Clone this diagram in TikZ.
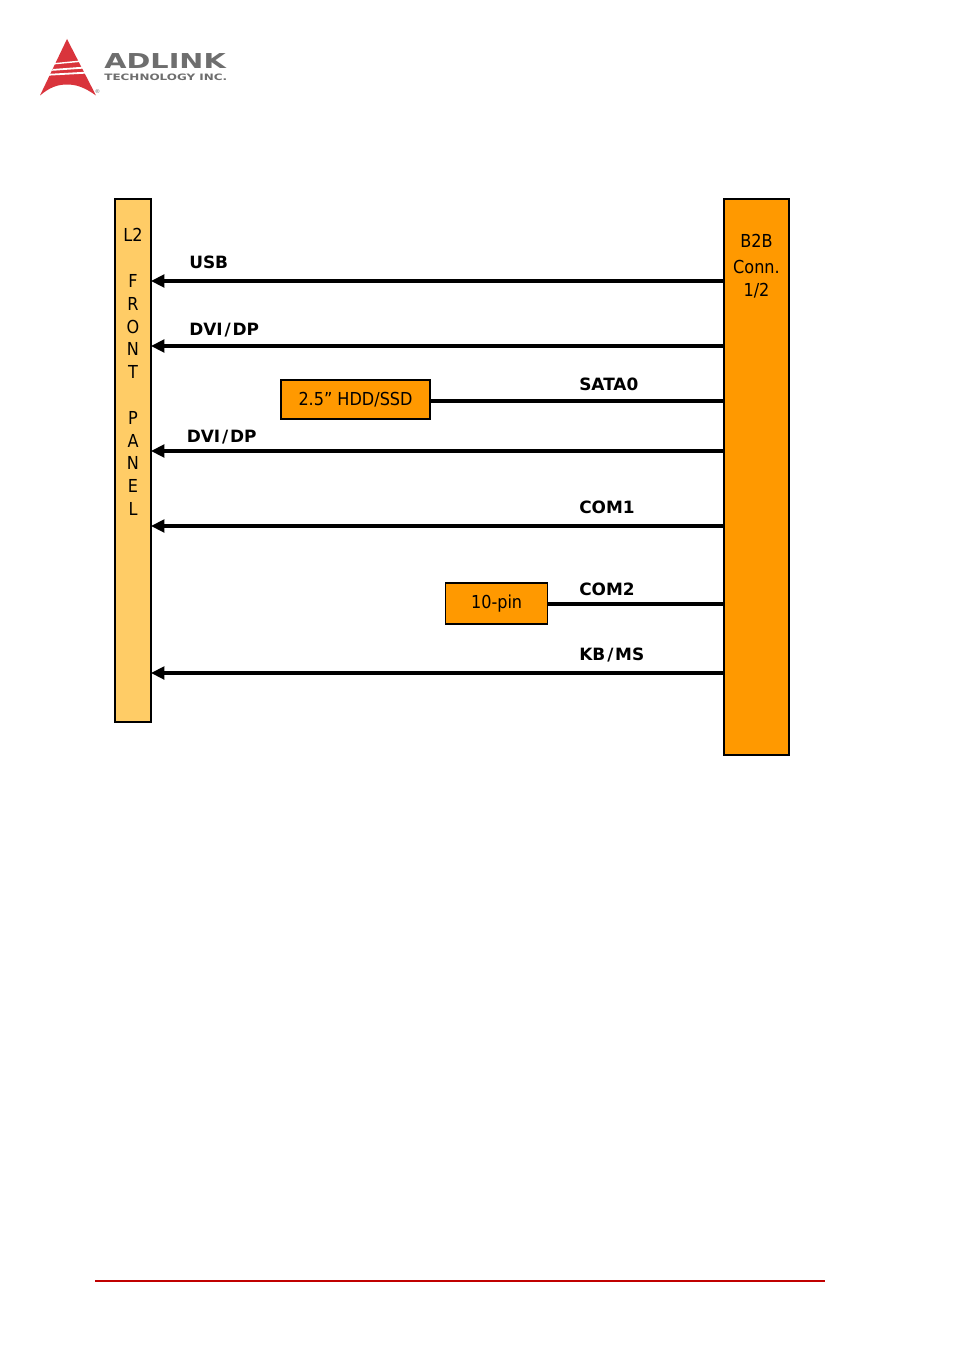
\documentclass[tikz,border=0pt]{standalone}
\usepackage{fontspec}
\setmainfont{DejaVu Sans}
\newfontfamily\cond{DejaVu Sans Condensed}
\usetikzlibrary{arrows.meta}
\definecolor{orng}{HTML}{FF9900}
\definecolor{lorng}{HTML}{FFCC66}
\definecolor{logored}{HTML}{D9343C}
\definecolor{logogrey}{HTML}{6E6E6E}
\definecolor{rulered}{HTML}{C00000}
\newcommand{\slashgap}{\kern1.5pt/\kern1.3pt}
\tikzset{
 box/.style={draw=black,line width=1.5pt,inner sep=0pt,outer sep=0pt,anchor=north west},
 txt/.style={font=\cond\fontsize{13.4pt}{17.1pt}\selectfont,text=black,align=center,inner sep=0pt},
 sig/.style={font=\bfseries\fontsize{12.7pt}{15pt}\selectfont,text=black,inner sep=0pt,anchor=base west},
 wire/.style={line width=2.3pt,draw=black},
 arrowwire/.style={wire,-{Triangle[length=10pt,width=9.5pt]}},
}
\begin{document}
\begin{tikzpicture}[x=0.75pt,y=-0.75pt]
\useasboundingbox (0,0) rectangle (954,1352);
\fill[white] (0,0) rectangle (954,1352);
% logo
\fill[logored] (67,39) -- (96,95.5) .. controls (84,87) and (76,84.5) .. (67,84.5) .. controls (58,84.5) and (50,87) .. (40,95.5) -- cycle;
\fill[white] (55,63) -- (79,60.6) -- (80,62) -- (54.4,64.4) -- cycle;
\fill[white] (53,69) -- (82.5,66.8) -- (83.4,68.6) -- (52,70.8) -- cycle;
\fill[white] (50,73.8) -- (85,71.8) -- (86,73.6) -- (49,75.6) -- cycle;
\node[inner sep=0pt,font=\fontsize{4pt}{4pt}\selectfont,text=logogrey] (reg) at (97.5,92) {®};
\node[inner sep=0pt,anchor=base west,text=logogrey,font=\bfseries\fontsize{15.4pt}{15.4pt}\selectfont,xscale=1.40] (adlink) at (104,68.5) {ADLINK};
\node[inner sep=0pt,anchor=base west,text=logogrey,font=\bfseries\fontsize{6.6pt}{6.6pt}\selectfont,xscale=1.36] (tech) at (104,80.5) {TECHNOLOGY INC.};
% boxes
\node[box,fill=lorng,minimum width=27pt,minimum height=392.2pt] (fp) at (115,199) {};
\node[box,fill=orng,minimum width=48.8pt,minimum height=417pt] (b2b) at (724,199) {};
\node[box,fill=orng,line width=1.1pt,minimum width=111.8pt,minimum height=29.2pt,txt] (hdd) at (281,380) {2.5” HDD/SSD};
\node[box,fill=orng,line width=1.1pt,minimum width=76.4pt,minimum height=30.8pt,txt] (pin) at (445.7,583) {10-pin};
% box texts
\node[txt] (fptext) at (133,372) {L2\\ \\F\\R\\O\\N\\T\\ \\P\\A\\N\\E\\L};
\node[txt] (b2btext) at (756.5,266) {B2B\\[2.8pt]Conn.\\1/2};
% wire heights
\coordinate (y1) at (0,281);
\coordinate (y2) at (0,346);
\coordinate (y3) at (0,401);
\coordinate (y4) at (0,451);
\coordinate (y5) at (0,526);
\coordinate (y6) at (0,604);
\coordinate (y7) at (0,673);
\draw[arrowwire] (b2b.west |- y1) -- (fp.east |- y1);
\draw[arrowwire] (b2b.west |- y2) -- (fp.east |- y2);
\draw[wire] (b2b.west |- y3) -- (hdd.east |- y3);
\draw[arrowwire] (b2b.west |- y4) -- (fp.east |- y4);
\draw[arrowwire] (b2b.west |- y5) -- (fp.east |- y5);
\draw[wire] (b2b.west |- y6) -- (pin.east |- y6);
\draw[arrowwire] (b2b.west |- y7) -- (fp.east |- y7);
% labels
\node[sig] (lusb) at (189,268) {USB};
\node[sig] (ldvi1) at (189,335) {DVI\slashgap DP};
\node[sig] (lsata) at (579,390) {SATA0};
\node[sig] (ldvi2) at (186.5,442) {DVI\slashgap DP};
\node[sig] (lcom1) at (579,513) {COM1};
\node[sig] (lcom2) at (579,595) {COM2};
\node[sig] (lkb) at (579,660) {KB\slashgap MS};
% footer rule
\coordinate (ruleL) at (95,1281);
\coordinate (ruleR) at (825,1281);
\draw[rulered,line width=1.3pt] (ruleL) -- (ruleR);
\end{tikzpicture}
\end{document}
